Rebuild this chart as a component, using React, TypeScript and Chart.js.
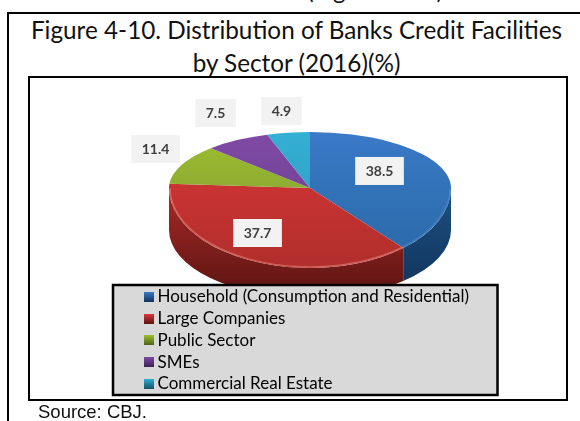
import React, { useEffect, useRef } from "react";
import { Chart, registerables } from "chart.js";

Chart.register(...registerables);

const categories = [
  "Household (Consumption and Residential)",
  "Large Companies",
  "Public Sector",
  "SMEs",
  "Commercial Real Estate",
];
const shares = [38.5, 37.7, 11.4, 7.5, 4.9];
const valueLabels = ["38.5", "37.7", "11.4", "7.5", "4.9"];
const faceTop = ["#3a7ac8", "#e2363a", "#9dbf2c", "#7f4aa6", "#33b0d4"];
const faceBottom = ["#2a6aa8", "#b02f2c", "#7f9a3a", "#6c3f8c", "#2f98bc"];
const wallLight = ["#1d4f80", "#a82a28", "#6f8a2a", "#55307a", "#1f7d99"];
const wallDark = ["#10335c", "#5a1412", "#4a5c1c", "#3a2050", "#125566"];
const rimColor = ["rgba(120,170,230,0.25)", "rgba(255,170,160,0.4)", "", "", ""];

const titleLines = ["Figure 4-10. Distribution of Banks Credit Facilities", "by Sector (2016)(%)"];
const sourceText = "Source: CBJ.";
const croppedLine = "(Figure 4-10)";

// projection of the round pie into the tilted view
const upRy = 56;
const downRy = 80;
const rimCentreDrop = 12;
const rimRy = 68;
const depth = 30;
// label placement: radial fraction of the arc's mid-angle, and upward lift in px
const labelRadial = [0.527, 0.835, 1.207, 1.296, 1.32];
const labelLift = [6.6, 14.8, 10.7, 13, 4];

const marker = (i: number) => {
  const c = document.createElement("canvas");
  c.width = 10;
  c.height = 10;
  const x = c.getContext("2d")!;
  const g = x.createLinearGradient(0, 0, 0, 10);
  g.addColorStop(0, faceTop[i]);
  g.addColorStop(1, wallDark[i]);
  x.fillStyle = g;
  x.fillRect(0, 0, 10, 10);
  return c;
};

const tiltPlugin = {
  id: "tilt",
  afterInit(chart: any) {
    const legend = chart.legend;
    legend._layers = () => [
      {
        z: 1,
        draw(area: any) {
          const ctx = chart.ctx;
          ctx.save();
          ctx.fillStyle = "#d9d9d9";
          ctx.strokeStyle = "#000";
          ctx.lineWidth = 2.5;
          ctx.fillRect(113, 285, 384.5, 110);
          ctx.strokeRect(113, 285, 384.5, 110);
          ctx.restore();
          legend.draw(area);
        },
      },
    ];
  },
  afterLayout(chart: any) {
    const legend = chart.legend;
    legend.left = 143.3;
    legend.top = 283.8;
    legend.right = 497;
    legend.bottom = chart.height;
  },
  beforeDatasetDraw(chart: any, args: any) {
    const ctx = chart.ctx;
    const arcs = args.meta.data;
    const { x: cx, y: cy, outerRadius: r } = arcs[0];

    arcs.forEach((arc: any, i: number) => {
      const a = Math.max(arc.startAngle, 0);
      const b = Math.min(arc.endAngle, Math.PI);
      if (b <= a) return;
      const g = ctx.createLinearGradient(0, cy, 0, cy + downRy + depth);
      g.addColorStop(0, wallLight[i]);
      g.addColorStop(1, wallDark[i]);
      ctx.beginPath();
      ctx.ellipse(cx, cy, r, downRy, 0, a, b);
      ctx.ellipse(cx, cy + rimCentreDrop + depth, r, rimRy, 0, b, a, true);
      ctx.closePath();
      ctx.fillStyle = g;
      ctx.fill();
    });

    const halves = [
      { top: 0, h: cy, ry: upRy },
      { top: cy, h: chart.height - cy, ry: downRy },
    ];
    halves.forEach(({ top, h, ry }) => {
      ctx.save();
      ctx.beginPath();
      ctx.rect(0, top, chart.width, h);
      ctx.clip();
      ctx.translate(cx, cy);
      ctx.scale(1, ry / r);
      ctx.translate(-cx, -cy);
      arcs.forEach((arc: any) => arc.draw(ctx));
      ctx.restore();
    });

    arcs.forEach((arc: any, i: number) => {
      const a = Math.max(arc.startAngle, 0);
      const b = Math.min(arc.endAngle, Math.PI);
      if (b <= a || !rimColor[i]) return;
      ctx.beginPath();
      ctx.ellipse(cx, cy, r - 1, downRy - 1, 0, a, b);
      ctx.strokeStyle = rimColor[i];
      ctx.lineWidth = 1.5;
      ctx.stroke();
    });
    return false;
  },
  afterDatasetsDraw(chart: any) {
    const ctx = chart.ctx;
    const arcs = chart.getDatasetMeta(0).data;
    ctx.save();
    ctx.font = "bold 14px Lato";
    ctx.textAlign = "center";
    ctx.textBaseline = "middle";
    arcs.forEach((arc: any, i: number) => {
      const mid = (arc.startAngle + arc.endAngle) / 2;
      const k = labelRadial[i] * arc.outerRadius;
      const s = Math.sin(mid);
      const x = arc.x + k * Math.cos(mid);
      const y = arc.y + k * s * ((s > 0 ? downRy : upRy) / arc.outerRadius) - labelLift[i];
      const w = ctx.measureText(valueLabels[i]).width + 21;
      ctx.fillStyle = "#f2f2f2";
      ctx.fillRect(x - w / 2, y - 14, w, 28);
      ctx.fillStyle = "#404040";
      ctx.fillText(valueLabels[i], x, y + 0.5);
    });
    ctx.restore();
  },
};

export default function App() {
  const ref = useRef<HTMLCanvasElement>(null);
  useEffect(() => {
    const ctx = ref.current!.getContext("2d")!;
    const chart = new Chart(ctx, {
      type: "doughnut",
      data: {
        labels: categories,
        datasets: [
          {
            data: shares,
            borderWidth: 0,
            backgroundColor: (c: any) => {
              const area = c.chart.chartArea;
              if (!area) return faceTop[c.dataIndex];
              const g = c.chart.ctx.createLinearGradient(0, area.top, 0, area.bottom);
              g.addColorStop(0, faceTop[c.dataIndex]);
              g.addColorStop(1, faceBottom[c.dataIndex]);
              return g;
            },
          },
        ],
      },
      options: {
        responsive: false,
        animation: false,
        cutout: 0,
        layout: { padding: { left: 169, right: 129, top: 47, bottom: 92 } },
        plugins: {
          tooltip: { enabled: false },
          legend: {
            position: "chartArea",
            align: "start",
            labels: {
              usePointStyle: true,
              boxWidth: 1,
              padding: 4.7,
              color: "#000",
              font: { family: "Lato", size: 17 },
              generateLabels: (c: any) =>
                (Chart as any).overrides.doughnut.plugins.legend.labels
                  .generateLabels(c)
                  .map((item: any, i: number) => ({ ...item, pointStyle: marker(i) })),
            },
          },
        },
      },
      plugins: [tiltPlugin],
    } as any);
    return () => chart.destroy();
  }, []);

  const abs: React.CSSProperties = { position: "absolute", boxSizing: "border-box" };
  return (
    <div style={{ position: "fixed", left: 0, top: 0, width: 580, height: 421, background: "#fff", overflow: "hidden", filter: "blur(0.35px)" }}>
      <div style={{ ...abs, left: 300, top: -24, width: 143, height: 28, overflow: "hidden", font: "24px/28px Lato", color: "#111", whiteSpace: "nowrap", textAlign: "right" }}>
        {croppedLine}
      </div>
      <div style={{ ...abs, left: 7, top: 12, width: 600, height: 430, border: "2px solid #000" }} />
      <div style={{ ...abs, left: 0, top: 13, width: 593, textAlign: "center", font: "24.3px/33px Lato", color: "#111" }}>
        {titleLines.map((t) => (
          <div key={t}>{t}</div>
        ))}
      </div>
      <div style={{ ...abs, left: 28, top: 76, width: 540, height: 325, border: "2.5px solid #000", background: "#fff" }} />
      <canvas ref={ref} width={580} height={421} style={{ ...abs, left: 0, top: 0, display: "block" }} />
      <div style={{ ...abs, left: 38, top: 402, font: "18.5px/20px 'Liberation Sans'", color: "#111" }}>{sourceText}</div>
    </div>
  );
}
